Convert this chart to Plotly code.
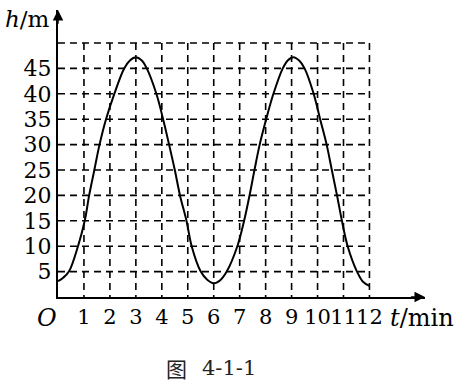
import plotly.graph_objects as go

# Data: height h (m) against time t (min)
t_min = [0, 0.2, 0.42, 0.77, 1.03, 1.2, 1.4, 1.6, 1.85, 2.17, 2.55, 2.78, 3.0, 3.22, 3.42,
         3.79, 4.05, 4.28, 4.5, 4.7, 4.95, 5.15, 5.5, 5.75, 6.0, 6.25, 6.5, 6.91, 7.17,
         7.38, 7.57, 7.77, 8.02, 8.3, 8.66, 8.86, 9.07, 9.3, 9.5, 9.85, 10.1, 10.35, 10.55,
         10.75, 10.94, 11.16, 11.52, 11.75, 12]
h_m = [3.1, 3.8, 5, 10, 15, 20, 25, 30, 35, 40, 45, 46.6, 47.2, 46.6, 45,
       40, 35, 30, 25, 20, 15, 10, 5, 3.4, 2.7, 3.3, 5, 10, 15,
       20, 25, 30, 35, 40, 45, 46.6, 47.2, 46.5, 45, 40, 35, 30, 25,
       20, 15, 10, 5, 3.0, 2.2]

x_ticks = list(range(1, 13))
x_labels = [str(v) for v in x_ticks]
y_ticks = [5, 10, 15, 20, 25, 30, 35, 40, 45]
y_labels = [str(v) for v in y_ticks]
grid_t = list(range(1, 13))
grid_h = [5, 10, 15, 20, 25, 30, 35, 40, 45, 50]
t_max, h_max = 12, 50

X_END, Y_END = 14.14, 56.5
SERIF = "DejaVu Serif"
PW, PH, L, T = 367, 287, 58, 10   # plot area size and offsets in pixels


def px(xp):
    return (xp - L) / PW


def py(yp):
    return (T + PH - yp) / PH


fig = go.Figure()
fig.add_trace(go.Scatter(
    x=t_min, y=h_m, mode="lines",
    line=dict(color="black", width=2, shape="spline", smoothing=1.0),
    hoverinfo="skip", showlegend=False,
))

shapes = []
for gt in grid_t:
    shapes.append(dict(type="line", xref="x", yref="y", x0=gt, x1=gt, y0=h_max, y1=0,
                       line=dict(color="black", width=1.6, dash="7px,5px"), layer="below"))
for gh in grid_h:
    shapes.append(dict(type="line", xref="x", yref="y", x0=0, x1=t_max, y0=gh, y1=gh,
                       line=dict(color="black", width=1.6, dash="7px,5px"), layer="below"))

annotations = [
    dict(x=X_END, y=0, ax=X_END - 0.6, ay=0, xref="x", yref="y", axref="x", ayref="y",
         text="", showarrow=True, arrowhead=2, arrowsize=1.4, arrowwidth=1.5, arrowcolor="black"),
    dict(x=0, y=Y_END, ax=0, ay=Y_END - 3, xref="x", yref="y", axref="x", ayref="y",
         text="", showarrow=True, arrowhead=2, arrowsize=1.4, arrowwidth=1.5, arrowcolor="black"),
    dict(x=px(3), y=py(19), xref="paper", yref="paper", xanchor="left", yanchor="middle",
         text="<i>h</i>/m", showarrow=False, font=dict(family=SERIF, size=23, color="black")),
    dict(x=px(388), y=py(318), xref="paper", yref="paper", xanchor="left", yanchor="middle",
         text="<i>t</i>/min", showarrow=False, font=dict(family=SERIF, size=24, color="black")),
    dict(x=px(47), y=py(318), xref="paper", yref="paper", xanchor="center", yanchor="middle",
         text="<i>O</i>", showarrow=False, font=dict(family=SERIF, size=24, color="black")),
    dict(x=px(164), y=py(368), xref="paper", yref="paper", xanchor="left", yanchor="middle",
         text="图", showarrow=False,
         font=dict(family="Noto Sans CJK SC", size=21, color="#222")),
    dict(x=px(200), y=py(368), xref="paper", yref="paper", xanchor="left", yanchor="middle",
         text="4-1-1", showarrow=False,
         font=dict(family=SERIF, size=21, color="#222")),
]

fig.update_layout(
    width=465, height=387,
    margin=dict(l=L, r=465 - L - PW, t=T, b=387 - T - PH, pad=0),
    paper_bgcolor="white", plot_bgcolor="white",
    shapes=shapes, annotations=annotations,
    showlegend=False,
    xaxis=dict(range=[0, X_END], showgrid=False, zeroline=False,
               showline=True, linecolor="black", linewidth=2,
               tickmode="array", tickvals=x_ticks, ticktext=x_labels,
               ticks="", tickangle=0,
               tickfont=dict(family=SERIF, size=21, color="black"),
               fixedrange=True),
    yaxis=dict(range=[0, Y_END], showgrid=False, zeroline=False,
               showline=True, linecolor="black", linewidth=2,
               tickmode="array", tickvals=y_ticks, ticktext=y_labels,
               ticks="", tickfont=dict(family=SERIF, size=22, color="black"),
               fixedrange=True),
)

fig.write_html("out.html")
